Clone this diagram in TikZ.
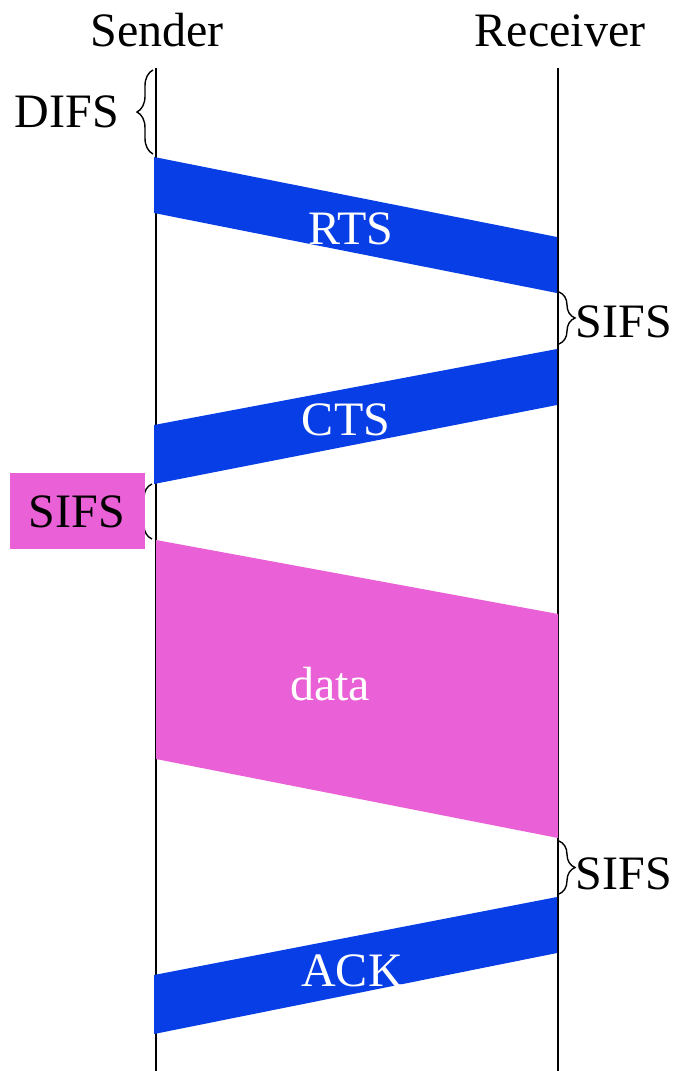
\documentclass[tikz,border=0pt]{standalone}
\usepackage{fontspec}
\setmainfont{Liberation Serif}
\usetikzlibrary{decorations.pathreplacing}

\definecolor{msgblue}{RGB}{8,62,230}
\definecolor{datapink}{RGB}{234,96,214}

\tikzset{
  lifeline/.style={line width=1.7pt},
  lbl/.style={font=\fontsize{48}{52}\selectfont, anchor=base, inner sep=0pt},
  inlbl/.style={lbl, text=white},
  gap/.style={decorate, decoration={brace, amplitude=16pt}, line width=1.4pt},
}

\begin{document}
\begin{tikzpicture}[x=1pt, y=-1pt]
  \useasboundingbox (0,0) rectangle (673,1071);

  % time lines
  \coordinate (stop) at (156,68);
  \coordinate (sbot) at (156,1071);
  \coordinate (rtop) at (558,68);
  \coordinate (rbot) at (558,1071);
  \draw[lifeline] (stop) -- (sbot);
  \draw[lifeline] (rtop) -- (rbot);
  \node[lbl] (sender) at (157,46) {Sender};
  \node[lbl] (receiver) at (560,46) {Receiver};

  % DIFS
  \draw[gap] (153,154) -- (153,70);
  \node[lbl] (difs) at (67,127) {DIFS};

  % RTS
  \fill[msgblue] (154,157) -- (557,237) -- (557,293) -- (154,213) -- cycle;
  \node[inlbl] (rts) at (351,244) {RTS};

  \draw[gap] (559,292) -- (559,344);
  \node[lbl] (sifsa) at (624,337) {SIFS};

  % CTS
  \fill[msgblue] (557,349) -- (154,425) -- (154,484) -- (557,405) -- cycle;
  \node[inlbl] (cts) at (346,435) {CTS};

  \draw[gap] (152,539) -- (152,484);
  \fill[datapink] (10,473) rectangle (145,549);
  \node[lbl] (sifsb) at (77,527) {SIFS};

  % data
  \fill[datapink] (156,540) -- (558,614) -- (558,838) -- (156,759) -- cycle;
  \node[inlbl] (data) at (330,700) {data};

  \draw[gap] (559,841) -- (559,894);
  \node[lbl] (sifsc) at (624,889) {SIFS};

  % ACK
  \fill[msgblue] (557,897) -- (154,975) -- (154,1034) -- (557,953) -- cycle;
  \node[inlbl] (ack) at (352,986) {ACK};
\end{tikzpicture}
\end{document}
